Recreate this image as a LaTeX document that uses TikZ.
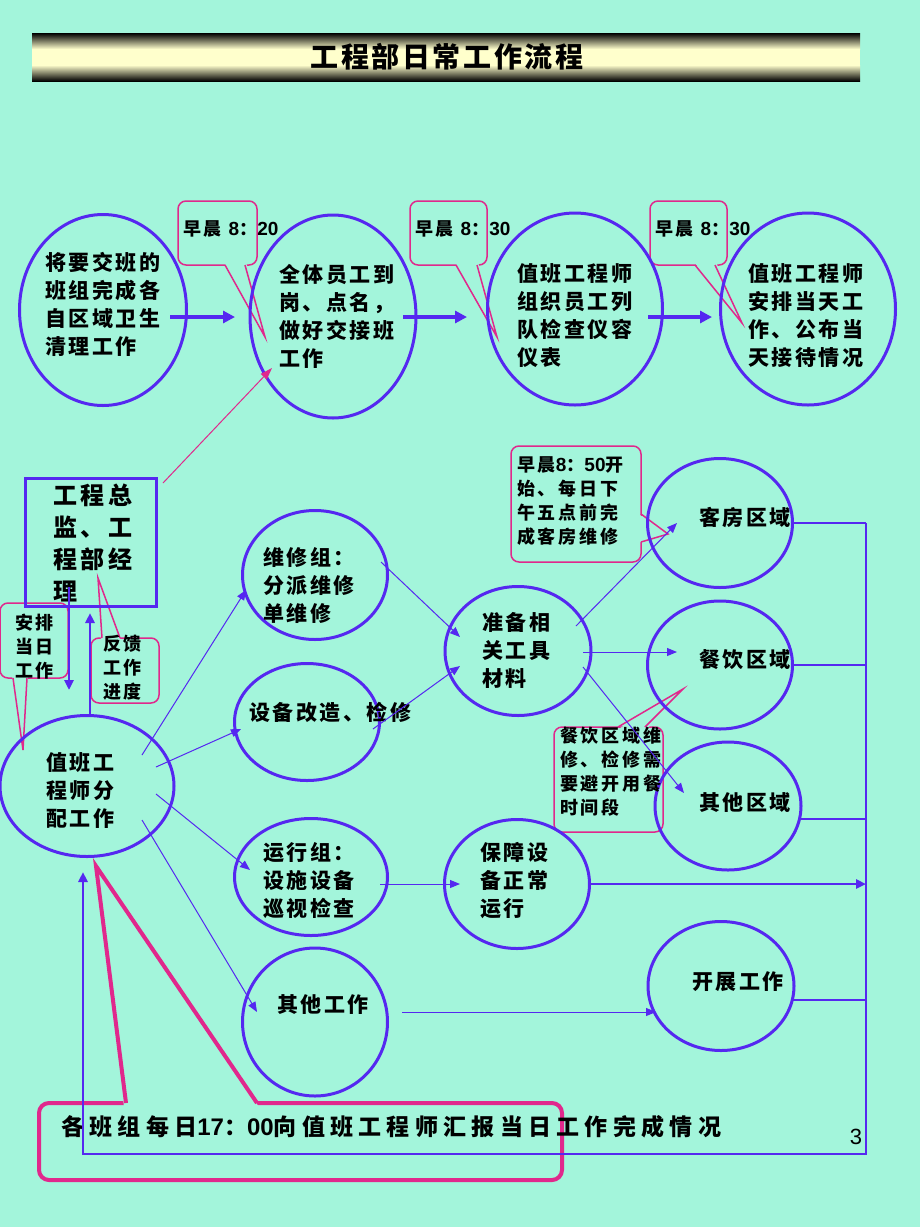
\documentclass[tikz,border=0pt]{standalone}
\usepackage{fontspec}
\usetikzlibrary{shapes.geometric,arrows.meta,calc}
\setmainfont{Liberation Sans}
\newfontfamily\cjk[LetterSpace=12]{Noto Sans CJK SC}
\newfontfamily\cjks[LetterSpace=15]{Noto Sans CJK SC}
\newfontfamily\cjkb[LetterSpace=23]{Noto Sans CJK SC}
\newfontfamily\cjkm[LetterSpace=15]{Noto Sans CJK SC}
\newfontfamily\cjkt[LetterSpace=9]{Noto Sans CJK SC}
\newfontfamily\lat{Liberation Sans}
\newcommand{\dg}[1]{{\lat\bfseries\fontsize{19}{24}\selectfont #1}}
\definecolor{bg}{RGB}{163,245,219}
\definecolor{bl}{RGB}{85,40,240}
\definecolor{pk}{RGB}{224,40,140}
\definecolor{cream}{RGB}{255,255,204}
\begin{document}
\begin{tikzpicture}[x=1pt,y=-1pt,
 ell/.style={draw=bl,line width=3pt,ellipse,inner sep=0pt},
 txt/.style={inner sep=0pt,anchor=west,align=left,font=\cjk\bfseries\fontsize{21}{28}\selectfont},
 stxt/.style={inner sep=0pt,anchor=west,align=left,font=\cjks\bfseries\fontsize{18}{24}\selectfont},
 thk/.style={draw=bl,line width=4pt,-{Triangle[length=12pt,width=12pt]}},
 thn/.style={draw=bl,line width=1pt,-{Triangle[length=10pt,width=8pt]}},
 frm/.style={draw=bl,line width=2.5pt},
 cbx/.style={draw=pk,line width=1.5pt,rounded corners=8pt,inner sep=0pt},
 tl/.style={draw=pk,line width=1.5pt},
]
\fill[bg] (0,0) rectangle (920,1227);
\useasboundingbox (0,0) rectangle (920,1227);
% title bar
\shade[top color=black,bottom color=cream] (32,33) rectangle (860,49);
\fill[cream] (32,48.5) rectangle (860,65.5);
\shade[top color=cream,bottom color=black] (32,65) rectangle (860,81);
\node[inner sep=0pt,font=\cjkt\bfseries\fontsize{28}{30}\selectfont] (title) at (447,57) {工程部日常工作流程};

% callouts (drawn first)
\node[cbx,minimum width=79pt,minimum height=64pt] (c1) at (217.5,233) {};
\fill[bg] (224,262) -- (265,337) -- (246,262) -- cycle;
\draw[tl] (225,265) -- (265,337) -- (245,265);
\node[cbx,minimum width=77pt,minimum height=64pt] (c2) at (448.5,233) {};
\fill[bg] (455,262) -- (497,337) -- (478,262) -- cycle;
\draw[tl] (456,265) -- (497,337) -- (477,265);
\node[cbx,minimum width=77pt,minimum height=64pt] (c3) at (688.5,233) {};
\fill[bg] (694,262) -- (742,323) -- (716,262) -- cycle;
\draw[tl] (695,265) -- (742,323) -- (715,265);
\node[cbx,minimum width=130pt,minimum height=116pt] (c4) at (576,504) {};
\fill[bg] (637,513) -- (668,534) -- (637,543) -- cycle;
\draw[tl] (641,514) -- (668,534) -- (641,542);
\node[cbx,minimum width=109pt,minimum height=105pt] (c5) at (608.5,779.5) {};
\fill[bg] (617,730) -- (683,689) -- (646,730) -- cycle;
\draw[tl] (618,727) -- (683,689) -- (645,727);
\node[cbx,minimum width=68pt,minimum height=75pt] (cap) at (34,640.5) {};
\fill[bg] (12,675) -- (23,750) -- (28,675) -- cycle;
\draw[tl] (13,678) -- (23,750) -- (27,678);
\node[cbx,minimum width=68pt,minimum height=65pt] (cfk) at (125,670.5) {};
\fill[bg] (101,641) -- (98,578) -- (121,641) -- cycle;
\draw[tl] (102,638) -- (98,578) -- (120,638);
\node[draw=pk,line width=4pt,rounded corners=10pt,minimum width=523pt,minimum height=77pt,inner sep=0pt] (cb) at (300.5,1141.5) {};
\fill[bg] (124,1107) -- (96,866) -- (259,1107) -- cycle;
\draw[pk,line width=4pt] (126,1103) -- (96,866) -- (257,1103);

% ellipses
\node[ell,minimum width=167pt,minimum height=191pt] (e1) at (103,310) {};
\node[ell,minimum width=166pt,minimum height=203pt] (e2) at (333,316.5) {};
\node[ell,minimum width=175pt,minimum height=192pt] (e3) at (575,309) {};
\node[ell,minimum width=175pt,minimum height=192pt] (e4) at (808,309) {};
\node[ell,minimum width=174pt,minimum height=141pt] (zb) at (87,786) {};
\node[ell,minimum width=145pt,minimum height=129pt] (wx) at (315,575) {};
\node[ell,minimum width=145pt,minimum height=117pt] (sb) at (307,722) {};
\node[ell,minimum width=153pt,minimum height=117pt] (yx) at (311,877) {};
\node[ell,minimum width=145pt,minimum height=148pt] (qt) at (315,1022) {};
\node[ell,minimum width=146pt,minimum height=129pt] (zy) at (518,651) {};
\node[ell,minimum width=145pt,minimum height=129pt] (bz) at (517,884) {};
\node[ell,minimum width=145pt,minimum height=129pt] (kf) at (720,523) {};
\node[ell,minimum width=145pt,minimum height=128pt] (cy) at (720,665) {};
\node[ell,minimum width=146pt,minimum height=128pt] (qy) at (728,806) {};
\node[ell,minimum width=146pt,minimum height=129pt] (kz) at (721,986) {};
\node[draw=bl,line width=3pt,minimum width=131pt,minimum height=128pt,inner sep=0pt] (mg) at (90.5,542) {};

% texts
\node[stxt] (c1t) at (183,229) {早晨 \dg{8}：\dg{20}};
\node[stxt] (c2t) at (415,229) {早晨 \dg{8}：\dg{30}};
\node[stxt] (c3t) at (655,229) {早晨 \dg{8}：\dg{30}};
\node[stxt] (c4t) at (517,501) {早晨\dg{8}：\dg{50}开\\始、每日下\\午五点前完\\成客房维修};
\node[stxt] (c5t) at (560,772) {餐饮区域维\\修、检修需\\要避开用餐\\时间段};
\node[stxt] (capt) at (15,647) {安排\\当日\\工作};
\node[stxt] (cfkt) at (103,668) {反馈\\工作\\进度};
\node[txt] (t1) at (45,304) {将要交班的\\班组完成各\\自区域卫生\\清理工作};
\node[txt] (t2) at (279,316) {全体员工到\\岗、点名，\\做好交接班\\工作};
\node[txt] (t3) at (517,316) {值班工程师\\组织员工列\\队检查仪容\\仪表};
\node[txt] (t4) at (748,316) {值班工程师\\安排当天工\\作、公布当\\天接待情况};
\node[txt,font=\cjkm\bfseries\fontsize{24}{32}\selectfont] (mgt) at (53,543) {工程总\\监、工\\程部经\\理};
\node[txt] (zbt) at (46,791) {值班工\\程师分\\配工作};
\node[txt] (wxt) at (263,585) {维修组：\\分派维修\\单维修};
\node[txt] (sbt) at (249,712) {设备改造、检修};
\node[txt] (yxt) at (263,881) {运行组：\\设施设备\\巡视检查};
\node[txt] (qtt) at (277,1005) {其他工作};
\node[txt] (zyt) at (482,650) {准备相\\关工具\\材料};
\node[txt] (bzt) at (480,881) {保障设\\备正常\\运行};
\node[txt] (kft) at (699,518) {客房区域};
\node[txt] (cyt) at (699,660) {餐饮区域};
\node[txt] (qyt) at (699,802) {其他区域};
\node[txt] (kzt) at (692,982) {开展工作};
\node[txt,font=\cjkb\bfseries\fontsize{23}{26}\selectfont] (bt) at (61,1127) {各班组每日{\lat\bfseries\fontsize{24}{26}\selectfont 17}：{\lat\bfseries\fontsize{24}{26}\selectfont 00}向值班工程师汇报当日工作完成情况};
\node[inner sep=0pt,font=\lat\fontsize{22}{22}\selectfont] (pn) at (856,1137) {3};

% thick arrows
\draw[thk] ([shift={(67,7)}]e1.center) -- ([shift={(-98,0.5)}]e2.center);
\draw[thk] ([shift={(70,0.5)}]e2.center) -- ([shift={(-108,8)}]e3.center);
\draw[thk] ([shift={(73,8)}]e3.center) -- ([shift={(-96,8)}]e4.center);

% manager links
\draw[pk,line width=1pt,-{Triangle[length=12pt,width=8pt]}] ([shift={(72.5,-59)}]mg.center) -- ([shift={(-61,51.5)}]e2.center);
\draw[frm,-{Triangle[length=10pt,width=9pt]}] ([shift={(-21.5,45)}]mg.center) -- ([shift={(-18,-96)}]zb.center);
\draw[frm,-{Triangle[length=10pt,width=9pt]}] ([shift={(3,-71)}]zb.center) -- ([shift={(-0.5,71)}]mg.center);

% thin arrows
\draw[thn] ([shift={(55,-31)}]zb.center) -- ([shift={(-69,15)}]wx.center);
\draw[thn] ([shift={(69,-19)}]zb.center) -- ([shift={(-66,7)}]sb.center);
\draw[thn] ([shift={(69,8)}]zb.center) -- ([shift={(-61,-7)}]yx.center);
\draw[thn] ([shift={(55,34)}]zb.center) -- ([shift={(-58,-10)}]qt.center);
\draw[thn] ([shift={(66,-13)}]wx.center) -- ([shift={(-58,-14)}]zy.center);
\draw[thn] ([shift={(66,7)}]sb.center) -- ([shift={(-58,15)}]zy.center);
\draw[thn] ([shift={(58,-25)}]zy.center) -- ([shift={(-43,0)}]kf.center);
\draw[thn] ([shift={(65,1)}]zy.center) -- ([shift={(-43,-13)}]cy.center);
\draw[thn] ([shift={(65,16)}]zy.center) -- ([shift={(-44,-13)}]qy.center);
\draw[thn] ([shift={(69,7)}]yx.center) -- ([shift={(-57,0)}]bz.center);
\draw[thn] ([shift={(87,-10)}]qt.center) -- ([shift={(-65,26)}]kz.center);

% collecting frame
\coordinate (fr1) at (866,523);
\coordinate (fr2) at (866,665);
\coordinate (fr3) at (866,819);
\coordinate (fr4) at (866,884);
\coordinate (fr5) at (866,1000);
\coordinate (fr6) at (866,1154);
\coordinate (fr7) at (83,1154);
\draw[frm,-{Triangle[length=10pt,width=9pt]}] (fr1) -- (fr6) -- (fr7) -- ([shift={(-4,86)}]zb.center);
\draw[frm] (kf.east) -- (fr1);
\draw[frm] (cy.east) -- (fr2);
\draw[frm] ([shift={(72,13)}]qy.center) -- (fr3);
\draw[frm,-{Triangle[length=10pt,width=9pt]}] (bz.east) -- (fr4);
\draw[frm] ([shift={(72,14)}]kz.center) -- (fr5);
\end{tikzpicture}
\end{document}
